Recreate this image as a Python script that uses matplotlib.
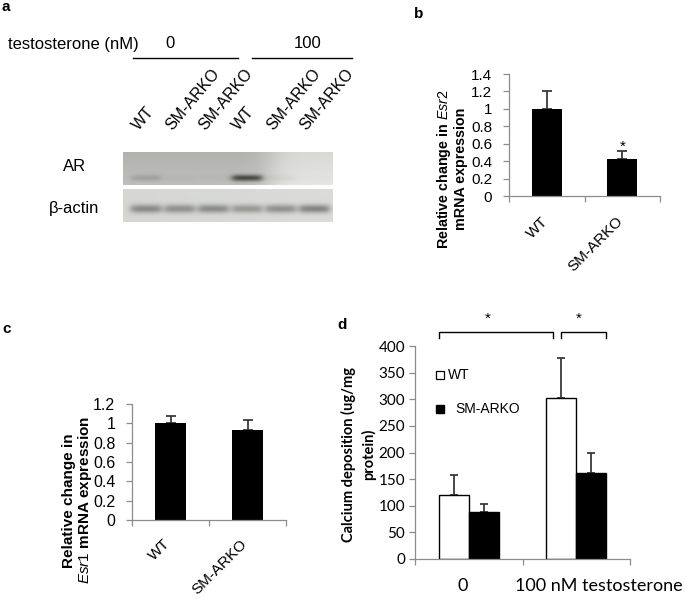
import numpy as np
import matplotlib
matplotlib.use('Agg')
import matplotlib.pyplot as plt
from matplotlib import ticker, transforms
from matplotlib.colors import LinearSegmentedColormap

plt.rcParams['font.family'] = ['Liberation Sans', 'DejaVu Sans']
plt.rcParams['mathtext.fontset'] = 'custom'
plt.rcParams['mathtext.it'] = 'Liberation Sans:italic'
plt.rcParams['mathtext.rm'] = 'Liberation Sans'
plt.rcParams['mathtext.bf'] = 'Liberation Sans:bold'

# ---------------- data ----------------
blot_lanes = ['WT', 'SM-ARKO', 'SM-ARKO', 'WT', 'SM-ARKO', 'SM-ARKO']
testosterone_groups = ['0', '100']
group_lanes = [[0, 1, 2], [3, 4, 5]]
ar_band = [0.12, 0.03, 0.02, 0.55, 0.04, 0.01]
actin_band = [0.36, 0.33, 0.36, 0.30, 0.34, 0.40]

genotypes = ['WT', 'SM-ARKO']
esr2_mean = [1.0, 0.42]
esr2_sem = [0.205, 0.095]
esr1_mean = [1.0, 0.93]
esr1_sem = [0.075, 0.105]

calcium_groups = ['0', '100 nM testosterone']
calcium_wt = [120, 302]
calcium_wt_sem = [38, 75]
calcium_ko = [88, 161]
calcium_ko_sem = [15, 38]

W, H = 685, 610
fig = plt.figure(figsize=(W / 100, H / 100), dpi=100)


def px_axes(l, t, r, b):
    return fig.add_axes([l / W, 1 - b / H, (r - l) / W, (b - t) / H])


def fx(x):
    return x / W


def fy(y):
    return 1 - y / H


def shift_px(artist, dx, dy=0):
    artist.set_transform(artist.get_transform() +
                         transforms.ScaledTranslation(dx / 100, dy / 100, fig.dpi_scale_trans))


AXC = '#8c8c8c'


def excel_style(ax, n, ymax, ystep, tick_fs, ypad, family=None):
    for s in ['top', 'right']:
        ax.spines[s].set_visible(False)
    for s in ['left', 'bottom']:
        ax.spines[s].set_color(AXC)
        ax.spines[s].set_linewidth(0.9)
    ax.set_ylim(0, ymax)
    ax.set_yticks(np.arange(0, ymax + ystep / 2, ystep))
    ax.yaxis.set_major_formatter(ticker.FormatStrFormatter('%g'))
    ax.tick_params(axis='y', direction='out', length=4, width=0.9, color=AXC,
                   labelsize=tick_fs, pad=ypad)
    ax.set_xlim(-0.5, n - 0.5)
    ax.set_xticks(np.arange(n))
    ax.set_xticks(np.arange(-0.5, n, 1), minor=True)
    ax.tick_params(axis='x', which='major', length=0)
    ax.tick_params(axis='x', which='minor', direction='out', length=4, width=0.9, color=AXC)
    if family:
        for lab in ax.get_yticklabels():
            lab.set_family(family)


# ---------------- panel a: western blot ----------------
blot_cmap = LinearSegmentedColormap.from_list('blot', [(0.10, 0.10, 0.09), (0.95, 0.955, 0.94)])
xl = (-0.68, 5.54)
xs = np.linspace(xl[0], xl[1], 420)
ys = np.linspace(0, 1, 70)
X, Y = np.meshgrid(xs, ys)


def lane_profile(i):
    return 1 / (1 + np.exp((np.abs(X - i) - 0.44) / 0.06))


ax_ar = px_axes(123, 152, 332, 185)
bg_ar = 0.70 + 0.18 / (1 + np.exp(-(X - 3.7) / 0.25)) + 0.06 * Y
img_ar = bg_ar.copy()
for i, v in enumerate(ar_band):
    img_ar -= v * lane_profile(i) * np.exp(-((Y - 0.79) / 0.10) ** 2)
ax_ar.imshow(img_ar, cmap=blot_cmap, vmin=0, vmax=1, extent=[xl[0], xl[1], 1, 0],
             aspect='auto', interpolation='bilinear')
ax_ar.set_xlim(*xl)
ax_ar.set_ylim(1, 0)
ax_ar.axis('off')

ax_ac = px_axes(123, 189, 332, 222)
bg_ac = 0.87 + 0.02 * X / 5
img_ac = bg_ac.copy()
for i, v in enumerate(actin_band):
    img_ac -= v * lane_profile(i) * np.exp(-((Y - 0.60) / 0.13) ** 2)
ax_ac.imshow(img_ac, cmap=blot_cmap, vmin=0, vmax=1, extent=[xl[0], xl[1], 1, 0],
             aspect='auto', interpolation='bilinear')
ax_ac.set_xlim(*xl)
ax_ac.set_ylim(1, 0)
ax_ac.axis('off')

bt = transforms.blended_transform_factory(ax_ar.transData, fig.transFigure)
for i, lab in enumerate(blot_lanes):
    ax_ar.text(i - 0.15, fy(133), lab, rotation=50, rotation_mode='anchor',
               ha='left', va='bottom', fontsize=11.5, transform=bt, clip_on=False)

group_line_off = [(-0.39, 0.74), (0.15, 1.13)]
group_text_off = [-0.29, 0.82]
for g, lanes_g in enumerate(group_lanes):
    x0 = lanes_g[0] + group_line_off[g][0]
    x1 = lanes_g[-1] + group_line_off[g][1]
    ax_ar.plot([x0, x1], [fy(58), fy(58)], color='black', lw=1.0, transform=bt, clip_on=False)
    ax_ar.text(lanes_g[1] + group_text_off[g], fy(44), testosterone_groups[g], ha='center',
               va='center', fontsize=12, transform=bt)

fig.text(fx(8), fy(44), 'testosterone (nM)', ha='left', va='center', fontsize=12)
fig.text(fx(75), fy(167), 'AR', ha='center', va='center', fontsize=12)
fig.text(fx(74), fy(208), 'β-actin', ha='center', va='center', fontsize=12)

# ---------------- panel b ----------------
ax_b = px_axes(509, 74, 660, 196)
excel_style(ax_b, 2, 1.4, 0.2, 11, 8)
xb = np.arange(len(genotypes))
ax_b.bar(xb, esr2_mean, width=0.4, color='black', zorder=2)
ax_b.errorbar(xb, esr2_mean, yerr=[np.zeros(len(xb)), esr2_sem], fmt='none', ecolor='#3a3a3a',
              elinewidth=1.3, capsize=3.3, capthick=1.3, zorder=1)
ax_b.text(xb[1], esr2_mean[1] + esr2_sem[1], '*', ha='center', va='baseline', fontsize=11)
ax_b.set_xticklabels(genotypes, fontsize=11)
plt.setp(ax_b.get_xticklabels(), rotation=45, ha='right', rotation_mode='anchor')
ax_b.tick_params(axis='x', which='major', pad=13)
for lab in ax_b.get_xticklabels():
    shift_px(lab, -6)
ax_b.set_ylabel('Relative change in $\\mathit{Esr2}$\nmRNA expression', fontsize=10.3,
                fontweight='bold', linespacing=1.05)
ax_b.yaxis.label.set_va('center')
ax_b.yaxis.set_label_coords(-0.38, 0.22)

# ---------------- panel c ----------------
ax_c = px_axes(132, 404, 286, 520)
excel_style(ax_c, 2, 1.2, 0.2, 11.5, 8)
xc = np.arange(len(genotypes))
ax_c.bar(xc, esr1_mean, width=0.41, color='black', zorder=2)
ax_c.errorbar(xc, esr1_mean, yerr=[np.zeros(len(xc)), esr1_sem], fmt='none', ecolor='#3a3a3a',
              elinewidth=1.3, capsize=3.3, capthick=1.3, zorder=1)
ax_c.set_xticklabels(genotypes, fontsize=11)
plt.setp(ax_c.get_xticklabels(), rotation=45, ha='right', rotation_mode='anchor')
ax_c.tick_params(axis='x', which='major', pad=12)
for lab in ax_c.get_xticklabels():
    shift_px(lab, -8)
ax_c.set_ylabel('Relative change in\n$\\mathit{Esr1}$ mRNA expression', fontsize=11,
                fontweight='bold', linespacing=1.0)
ax_c.yaxis.label.set_va('center')
ax_c.yaxis.set_label_coords(-0.35, 0.17)

# ---------------- panel d ----------------
CAL = ['Lato', 'DejaVu Sans']
ax_d = px_axes(415, 346, 630, 559)
excel_style(ax_d, 2, 400, 50, 11, 3, family=CAL)
xd = np.arange(len(calcium_groups))
bw = 0.28
wt_x = xd - bw / 2
ko_x = xd + bw / 2
ax_d.bar(wt_x, calcium_wt, width=bw, color='white', edgecolor='black', linewidth=1.0, zorder=2)
ax_d.bar(ko_x, calcium_ko, width=bw, color='black', edgecolor='black', linewidth=1.0, zorder=2)
ax_d.errorbar(wt_x, calcium_wt, yerr=[np.zeros(2), calcium_wt_sem], fmt='none', ecolor='#3a3a3a',
              elinewidth=1.3, capsize=3.0, capthick=1.3, zorder=1)
ax_d.errorbar(ko_x, calcium_ko, yerr=[np.zeros(2), calcium_ko_sem], fmt='none', ecolor='#3a3a3a',
              elinewidth=1.3, capsize=3.0, capthick=1.3, zorder=1)
ax_d.set_xticklabels(calcium_groups, fontsize=13, family=CAL)
ax_d.tick_params(axis='x', which='major', pad=14)
for lab, s in zip(ax_d.get_xticklabels(), [-6, 23]):
    shift_px(lab, s)
ax_d.set_ylabel('Calcium deposition (ug/mg\nprotein)', fontsize=10.5, fontweight='bold',
                family=CAL, linespacing=1.45)
ax_d.yaxis.label.set_va('center')
ax_d.yaxis.set_label_coords(-0.262, 0.49)

# legend (Excel style)
ax_d.plot([0.116], [0.864], marker='s', ms=6.0, mfc='white', mec='black', mew=0.9,
          transform=ax_d.transAxes, clip_on=False)
ax_d.text(0.153, 0.864, genotypes[0], transform=ax_d.transAxes, va='center', ha='left', fontsize=10)
ax_d.plot([0.116], [0.702], marker='s', ms=5.5, mfc='black', mec='black',
          transform=ax_d.transAxes, clip_on=False)
ax_d.text(0.186, 0.702, genotypes[1], transform=ax_d.transAxes, va='center', ha='left', fontsize=10)


# significance brackets
def bracket(x0, x1, ytop, ybot, star_x, star_y):
    ax_d.plot([x0, x0, x1, x1], [ybot, ytop, ytop, ybot], color='black', lw=1.0, clip_on=False)
    ax_d.text(star_x, star_y, '*', ha='center', va='center', fontsize=11, clip_on=False)


bracket(wt_x[0] - bw / 2, wt_x[1] - 0.08, 426, 415, 0.18, 452)
bracket(wt_x[1], ko_x[1] + bw / 2, 426, 415, ko_x[1] - 0.12, 452)

# panel letters
for letter, (px, py) in zip('abcd', [(6, 7), (419, 14), (7, 329), (342, 325)]):
    fig.text(fx(px), fy(py), letter, ha='center', va='center', fontsize=11, fontweight='bold')

fig.savefig('out.png', dpi=100)
